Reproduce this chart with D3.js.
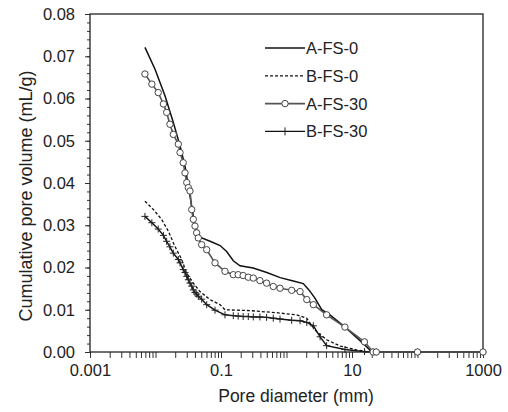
<!DOCTYPE html>
<html>
<head>
<meta charset="utf-8">
<script src="https://cdn.jsdelivr.net/npm/d3@7"></script>
<style>
  body { margin: 0; background: #fff; }
  text { font-family: "Liberation Sans", Arial, sans-serif; fill: #222; }
</style>
</head>
<body>
<svg id="chart"></svg>
<script>
// pore diameter (mm) / cumulative pore volume (mL/g)
const aFs0 = [
  [0.0069, 0.0721], [0.0098, 0.0670], [0.0140, 0.0606], [0.0187, 0.0543], [0.0237, 0.0488],
  [0.0282, 0.0440], [0.0317, 0.0393], [0.0357, 0.0345], [0.0401, 0.0298], [0.0478, 0.0272],
  [0.068, 0.0262], [0.097, 0.0252], [0.122, 0.0238], [0.154, 0.0216], [0.195, 0.0204],
  [0.31, 0.0199], [0.50, 0.0188], [0.80, 0.0176], [1.27, 0.0168], [1.80, 0.0162],
  [2.2, 0.0147], [2.7, 0.0128], [3.45, 0.0100], [4.6, 0.0088], [7.4, 0.0062],
  [11.8, 0.0034], [16.8, 0.0012], [20, 0]
];

const bFs0 = [
  [0.0069, 0.0357], [0.0093, 0.0337], [0.0124, 0.0314], [0.0157, 0.0286], [0.0198, 0.0250],
  [0.0251, 0.0219], [0.0298, 0.0187], [0.0378, 0.0163], [0.0478, 0.0143], [0.068, 0.0124],
  [0.097, 0.0112], [0.115, 0.0100], [0.276, 0.0098], [0.706, 0.0093], [1.43, 0.0088],
  [2.04, 0.0080], [2.28, 0.0068], [2.89, 0.0048], [4.1, 0.0029], [6.6, 0.0014],
  [11.7, 0.0005], [18.0, 0]
];

const aFs30 = [
  [0.0069, 0.0658], [0.0088, 0.0634], [0.0110, 0.0614], [0.0132, 0.0587], [0.0148, 0.0567],
  [0.0166, 0.0539], [0.0187, 0.0515], [0.0223, 0.0492], [0.0237, 0.0472], [0.0265, 0.0448],
  [0.0282, 0.0424], [0.0300, 0.0401], [0.0317, 0.0389], [0.0336, 0.0381], [0.0357, 0.0337],
  [0.0378, 0.0314], [0.0401, 0.0298], [0.0425, 0.0282], [0.0450, 0.0270], [0.0507, 0.0254],
  [0.0605, 0.0242], [0.081, 0.0211], [0.115, 0.0191], [0.154, 0.0183], [0.183, 0.0183],
  [0.218, 0.0181], [0.261, 0.0177], [0.311, 0.0175], [0.393, 0.0169], [0.497, 0.0163],
  [0.628, 0.0155], [0.796, 0.0151], [1.20, 0.0146], [1.61, 0.0143], [2.04, 0.0124],
  [2.57, 0.0112], [4.1, 0.0088], [7.8, 0.0059], [15.5, 0.0024], [21, 0],
  [23.5, 0], [100, 0], [1000, 0]
];

const bFs30 = [
  [0.0069, 0.0321], [0.0088, 0.0306], [0.0110, 0.0291], [0.0132, 0.0276], [0.0148, 0.0262],
  [0.0166, 0.0249], [0.0187, 0.0234], [0.0223, 0.0219], [0.0237, 0.0211], [0.0265, 0.0195],
  [0.0282, 0.0188], [0.0300, 0.0179], [0.0317, 0.0171], [0.0336, 0.0163], [0.0357, 0.0156],
  [0.0378, 0.0147], [0.0401, 0.0141], [0.0425, 0.0137], [0.0450, 0.0132], [0.0507, 0.0125],
  [0.0605, 0.0112], [0.081, 0.0099], [0.115, 0.0088], [0.154, 0.0086], [0.183, 0.0085],
  [0.218, 0.0084], [0.261, 0.0084], [0.311, 0.0083], [0.393, 0.0083], [0.497, 0.0082],
  [0.628, 0.0080], [0.796, 0.0078], [1.20, 0.0075], [1.61, 0.0074], [2.04, 0.0070],
  [2.57, 0.0062], [3.26, 0.0036], [4.1, 0.0015], [7.8, 0.0006], [15.5, 0.0001],
  [21, 0], [23.5, 0], [100, 0], [1000, 0]
];

const seriesNames = ['A-FS-0', 'B-FS-0', 'A-FS-30', 'B-FS-30'];
const xTickLabels = [0.001, 0.1, 10, 1000];
const yTickLabels = [0, 0.01, 0.02, 0.03, 0.04, 0.05, 0.06, 0.07, 0.08];

const width = 508, height = 412;
const margin = { top: 14, right: 25, bottom: 60, left: 90 };
const innerW = width - margin.left - margin.right;
const innerH = height - margin.top - margin.bottom;

const svg = d3.select('#chart')
  .attr('width', width)
  .attr('height', height);

const chart = svg.append('g')
  .attr('transform', `translate(${margin.left},${margin.top})`);

const xScale = d3.scaleLog()
  .domain([0.001, 1000])
  .range([0, innerW]);

const yScale = d3.scaleLinear()
  .domain([0, 0.08])
  .range([innerH, 0]);

// minor ticks: 2..9 of every decade plus the decades
let xMinor = [];
for (let e = -3; e < 3; e++) {
  for (let k = 1; k <= 9; k++) xMinor.push(k * Math.pow(10, e));
}
xMinor.push(1000);
const yMinor = d3.range(0, 0.0801, 0.002);

const xMinorAxis = d3.axisBottom(xScale).tickValues(xMinor).tickFormat('').tickSize(6);
const xAxis = d3.axisBottom(xScale)
  .tickValues(xTickLabels)
  .tickFormat(d => String(d))
  .tickSize(6)
  .tickPadding(6);
const yMinorAxis = d3.axisLeft(yScale).tickValues(yMinor).tickFormat('').tickSize(3);
const yAxis = d3.axisLeft(yScale)
  .tickValues(yTickLabels)
  .tickFormat(d3.format('.2f'))
  .tickSize(5)
  .tickPadding(10);

function styleAxis(g) {
  g.select('.domain').remove();
  g.selectAll('line').attr('stroke', '#333').attr('stroke-width', 1);
  g.selectAll('text').style('font-size', '16.5px').attr('fill', '#222');
}

chart.append('g').attr('transform', `translate(0,${innerH})`).call(xMinorAxis).call(styleAxis);
chart.append('g').attr('transform', `translate(0,${innerH})`).call(xAxis).call(styleAxis);
chart.append('g').call(yMinorAxis).call(styleAxis);
chart.append('g').call(yAxis).call(styleAxis);

// frame
chart.append('rect')
  .attr('x', 0).attr('y', 0)
  .attr('width', innerW).attr('height', innerH)
  .attr('fill', 'none')
  .attr('stroke', '#222')
  .attr('stroke-width', 1.3);

const line = d3.line()
  .x(d => xScale(d[0]))
  .y(d => yScale(d[1]));

chart.append('path').datum(aFs0)
  .attr('d', line).attr('fill', 'none')
  .attr('stroke', '#111').attr('stroke-width', 1.5);

chart.append('path').datum(bFs0)
  .attr('d', line).attr('fill', 'none')
  .attr('stroke', '#111').attr('stroke-width', 1.3)
  .attr('stroke-dasharray', '3,2');

chart.append('path').datum(bFs30)
  .attr('d', line).attr('fill', 'none')
  .attr('stroke', '#111').attr('stroke-width', 1.4);

chart.selectAll('.plus').data(bFs30).enter()
  .append('path')
  .attr('class', 'plus')
  .attr('d', d => {
    const x = xScale(d[0]), y = yScale(d[1]);
    return `M${x - 3.5},${y}H${x + 3.5}M${x},${y - 3.5}V${y + 3.5}`;
  })
  .attr('stroke', '#222').attr('stroke-width', 1);

chart.append('path').datum(aFs30)
  .attr('d', line).attr('fill', 'none')
  .attr('stroke', '#555').attr('stroke-width', 1.6);

chart.selectAll('.circ').data(aFs30).enter()
  .append('circle')
  .attr('class', 'circ')
  .attr('cx', d => xScale(d[0]))
  .attr('cy', d => yScale(d[1]))
  .attr('r', 3.2)
  .attr('fill', '#fff')
  .attr('stroke', '#444')
  .attr('stroke-width', 1);

// legend
const legend = svg.append('g').attr('transform', 'translate(265,48)');
seriesNames.forEach((name, i) => {
  const g = legend.append('g').attr('transform', `translate(0,${i * 27.8})`);
  const ln = g.append('line')
    .attr('x1', 0).attr('x2', 40)
    .attr('y1', 0).attr('y2', 0)
    .attr('stroke', i === 2 ? '#555' : '#111')
    .attr('stroke-width', i === 2 ? 1.6 : 1.4);
  if (i === 1) ln.attr('stroke-dasharray', '3,2').attr('stroke-width', 1.3);
  if (i === 2) {
    g.append('circle').attr('cx', 20).attr('cy', 0).attr('r', 3.2)
      .attr('fill', '#fff').attr('stroke', '#444');
  }
  if (i === 3) {
    g.append('path').attr('d', 'M20,-4V4').attr('stroke', '#222');
  }
  g.append('text')
    .attr('x', 41).attr('y', 6)
    .style('font-size', '16.5px')
    .text(name);
});

// axis titles
svg.append('text')
  .attr('x', 296).attr('y', 402)
  .attr('text-anchor', 'middle')
  .style('font-size', '17.5px')
  .text('Pore diameter (mm)');

svg.append('text')
  .attr('transform', 'translate(32,196) rotate(-90)')
  .attr('text-anchor', 'middle')
  .style('font-size', '18px')
  .text('Cumulative pore volume (mL/g)');
</script>
</body>
</html>
